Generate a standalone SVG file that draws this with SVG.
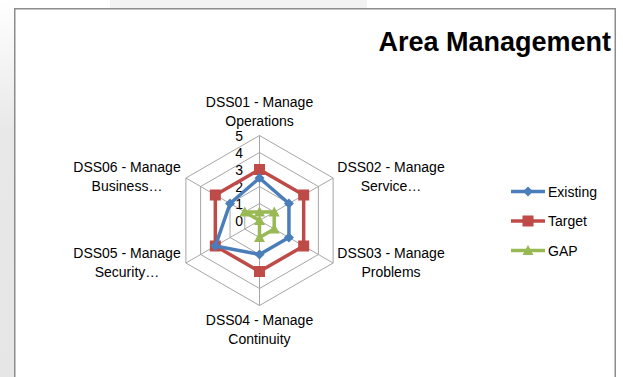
<svg xmlns="http://www.w3.org/2000/svg" width="623" height="377" viewBox="0 0 623 377">
  <defs>
    <linearGradient id="sideShade" x1="0" y1="0" x2="0" y2="1">
      <stop offset="0" stop-color="#ffffff"/>
      <stop offset="0.35" stop-color="#e8e8e8"/>
      <stop offset="1" stop-color="#e6e6e6"/>
    </linearGradient>
    <!-- series markers -->
    <path id="mkDiamond" d="M0,-5 L5,0 L0,5 L-5,0 Z"/>
    <rect id="mkSquare" x="-5.5" y="-5.5" width="11" height="11"/>
    <path id="mkTriangle" d="M0,-5.5 L5.5,4.5 L-5.5,4.5 Z"/>
  </defs>
  <style>
    .frame { fill: #ffffff; stroke: #8c8c8c; stroke-width: 1.5; }
    .grid { fill: none; stroke: #a6a6a6; stroke-width: 1; }
    .lbl { font-family: "Liberation Sans", Arial, sans-serif; font-size: 14px; fill: #000000; }
    .mid { text-anchor: middle; }
    .tick { text-anchor: end; }
    .title { font-family: "Liberation Sans", Arial, sans-serif; font-size: 27px; font-weight: bold; fill: #000000; text-anchor: end; }
    .line { fill: none; stroke-width: 3.5; stroke-linejoin: round; }
    .existing { stroke: #4a7ebb; }
    .target { stroke: #be4b48; }
    .gap { stroke: #98b954; }
    .fExisting { fill: #4a7ebb; }
    .fTarget { fill: #be4b48; }
    .fGap { fill: #98b954; }
  </style>

  <!-- page background -->
  <rect x="0" y="0" width="623" height="377" fill="#ffffff"/>
  <rect x="0" y="0" width="14" height="377" fill="url(#sideShade)"/>
  <rect x="110" y="0" width="257" height="8" fill="#f3f3f3"/>

  <!-- chart area -->
  <rect class="frame" x="14.75" y="8.75" width="600.5" height="400"/>

  <text class="title" x="611" y="51">Area Management</text>

  <!-- radar grid: centre (259.5,220.5), 17px per unit -->
  <g id="grid">
    <polygon class="grid" points="259.5,203.5 274.22,212 274.22,229 259.5,237.5 244.78,229 244.78,212"/>
    <polygon class="grid" points="259.5,186.5 288.94,203.5 288.94,237.5 259.5,254.5 230.06,237.5 230.06,203.5"/>
    <polygon class="grid" points="259.5,169.5 303.67,195 303.67,246 259.5,271.5 215.33,246 215.33,195"/>
    <polygon class="grid" points="259.5,152.5 318.39,186.5 318.39,254.5 259.5,288.5 200.61,254.5 200.61,186.5"/>
    <polygon class="grid" points="259.5,135.5 333.11,178 333.11,263 259.5,305.5 185.89,263 185.89,178"/>
    <path class="grid" d="M259.5,220.5 L259.5,135.5 M259.5,220.5 L333.11,178 M259.5,220.5 L333.11,263 M259.5,220.5 L259.5,305.5 M259.5,220.5 L185.89,263 M259.5,220.5 L185.89,178"/>
  </g>

  <!-- value axis -->
  <g id="axis-values">
    <text class="lbl tick" x="243" y="141">5</text>
    <text class="lbl tick" x="243" y="158">4</text>
    <text class="lbl tick" x="243" y="175">3</text>
    <text class="lbl tick" x="243" y="192">2</text>
    <text class="lbl tick" x="243" y="209">1</text>
    <text class="lbl tick" x="243" y="226">0</text>
  </g>

  <!-- category labels -->
  <g id="cat-dss01">
    <text class="lbl mid" x="259.5" y="107">DSS01 - Manage</text>
    <text class="lbl mid" x="259.5" y="125.5">Operations</text>
  </g>
  <g id="cat-dss02">
    <text class="lbl mid" x="391" y="172">DSS02 - Manage</text>
    <text class="lbl mid" x="391" y="191">Service…</text>
  </g>
  <g id="cat-dss03">
    <text class="lbl mid" x="391" y="258">DSS03 - Manage</text>
    <text class="lbl mid" x="391" y="277">Problems</text>
  </g>
  <g id="cat-dss04">
    <text class="lbl mid" x="259.5" y="325">DSS04 - Manage</text>
    <text class="lbl mid" x="259.5" y="344">Continuity</text>
  </g>
  <g id="cat-dss05">
    <text class="lbl mid" x="127" y="258">DSS05 - Manage</text>
    <text class="lbl mid" x="127" y="277">Security…</text>
  </g>
  <g id="cat-dss06">
    <text class="lbl mid" x="127" y="172">DSS06 - Manage</text>
    <text class="lbl mid" x="127" y="191">Business…</text>
  </g>

  <!-- data series -->
  <g id="series-target">
    <polygon class="line target" points="259.5,169.5 303.67,195 303.67,246 259.5,271.5 215.33,246 215.33,195"/>
    <g class="fTarget">
      <use href="#mkSquare" x="259.5" y="169.5"/>
      <use href="#mkSquare" x="303.67" y="195"/>
      <use href="#mkSquare" x="303.67" y="246"/>
      <use href="#mkSquare" x="259.5" y="271.5"/>
      <use href="#mkSquare" x="215.33" y="246"/>
      <use href="#mkSquare" x="215.33" y="195"/>
    </g>
  </g>
  <g id="series-existing">
    <polygon class="line existing" points="259.5,178 288.94,203.5 288.94,237.5 259.5,254.5 215.33,246 230.06,203.5"/>
    <g class="fExisting">
      <use href="#mkDiamond" x="259.5" y="178"/>
      <use href="#mkDiamond" x="288.94" y="203.5"/>
      <use href="#mkDiamond" x="288.94" y="237.5"/>
      <use href="#mkDiamond" x="259.5" y="254.5"/>
      <use href="#mkDiamond" x="215.33" y="246"/>
      <use href="#mkDiamond" x="230.06" y="203.5"/>
    </g>
  </g>
  <g id="series-gap">
    <polygon class="line gap" points="259.5,212 274.22,212 274.22,229 259.5,237.5 259.5,220.5 244.78,212"/>
    <g class="fGap">
      <use href="#mkTriangle" x="259.5" y="212"/>
      <use href="#mkTriangle" x="274.22" y="212"/>
      <use href="#mkTriangle" x="274.22" y="229"/>
      <use href="#mkTriangle" x="259.5" y="237.5"/>
      <use href="#mkTriangle" x="259.5" y="220.5"/>
      <use href="#mkTriangle" x="244.78" y="212"/>
    </g>
  </g>

  <!-- legend -->
  <g id="legend">
    <g id="legend-existing">
      <line class="line existing" x1="511" y1="191.5" x2="545" y2="191.5"/>
      <use class="fExisting" href="#mkDiamond" x="528" y="191.5"/>
      <text class="lbl" x="548" y="196.5">Existing</text>
    </g>
    <g id="legend-target">
      <line class="line target" x1="511" y1="221" x2="545" y2="221"/>
      <use class="fTarget" href="#mkSquare" x="528" y="221"/>
      <text class="lbl" x="548" y="226">Target</text>
    </g>
    <g id="legend-gap">
      <line class="line gap" x1="511" y1="250.5" x2="545" y2="250.5"/>
      <use class="fGap" href="#mkTriangle" x="528" y="250.5"/>
      <text class="lbl" x="548" y="255.5">GAP</text>
    </g>
  </g>
</svg>
